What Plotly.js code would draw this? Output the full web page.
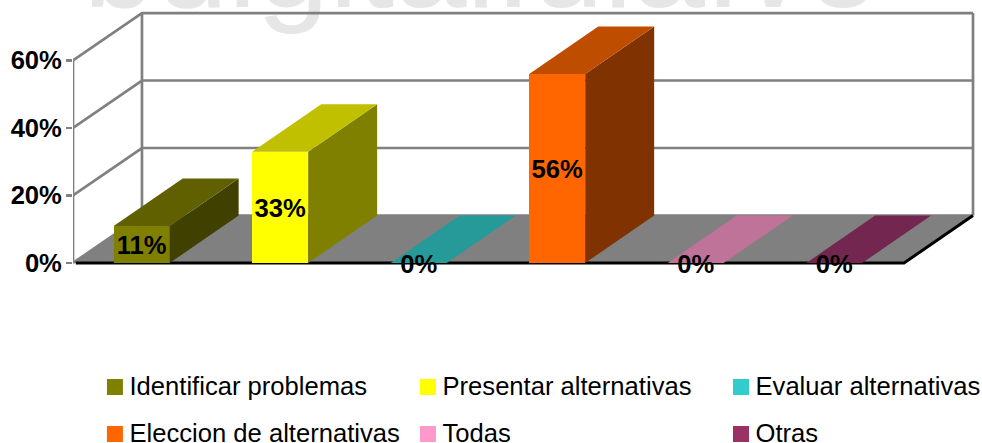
<!DOCTYPE html>
<html>
<head>
<meta charset="utf-8">
<script src="https://cdn.plot.ly/plotly-3.0.1.min.js"></script>
<style>html,body{margin:0;padding:0;background:#fff;overflow:hidden}</style>
</head>
<body>
<div id="chart" style="width:982px;height:443px"></div>
<script>
// Survey shares per category
var categories = ["Identificar problemas", "Presentar alternativas", "Evaluar alternativas",
                  "Eleccion de alternativas", "Todas", "Otras"];
var shares = [11, 33, 0, 56, 0, 0];
var shareTicks = [0, 20, 40, 60];

// Face colours of each box
var frontColors = ["#808000", "#FFFF00", "#33CCCC", "#FF6600", "#FF99CC", "#993366"];
var topColors   = ["#606000", "#C0C000", "#269999", "#BF4D00", "#BF7399", "#732650"];
var sideColors  = ["#404000", "#808000", "#1A6666", "#803300", "#804D66", "#4D1A33"];

// Oblique projection: how far the back plane is shifted from the front plane, in axis units
var depthX = 0.498, depthY = 14.07;
var halfBar = 0.202;
var floorLeft = -0.5, floorRight = 5.5, topValue = 60;
var gray = "#808080", font = "Liberation Sans, Arial, sans-serif";

function poly(xs, ys, color) {
  return {type: "scatter", mode: "lines", x: xs.concat(xs[0]), y: ys.concat(ys[0]),
          fill: "toself", fillcolor: color, line: {width: 0}, hoverinfo: "skip",
          xaxis: "x2", yaxis: "y2", showlegend: false};
}
function wall(xs, ys, color, width) {
  return {type: "scatter", mode: "lines", x: xs, y: ys, hoverinfo: "skip", showlegend: false,
          line: {color: color || gray, width: width || 2.7, simplify: false}};
}

var traces = [];

// Site mark running behind the frame, anchored inside the plot so it is not culled
traces.push({type: "scatter", mode: "text", x: [2.445], y: [66.3], text: ["bdigital.ula.ve"],
  textposition: "top center", cliponaxis: false, hoverinfo: "skip", showlegend: false,
  textfont: {family: font, size: 130, color: "#E6E6E6"}});

// Floor
traces.push({type: "scatter", mode: "lines", hoverinfo: "skip", showlegend: false,
  x: [floorLeft, floorRight, floorRight + depthX, floorLeft + depthX, floorLeft],
  y: [0, 0, depthY, depthY, 0], fill: "toself", fillcolor: "#808080", line: {width: 0}});

// Back and side walls with their grid lines
shareTicks.forEach(function (t) {
  traces.push(wall([floorLeft, floorLeft + depthX, floorRight + depthX],
                   [t, t + depthY, t + depthY]));
});
traces.push(wall([floorLeft, floorLeft], [0, topValue]));
traces.push(wall([floorLeft + depthX, floorLeft + depthX], [depthY, topValue + depthY]));
traces.push(wall([floorRight + depthX, floorRight + depthX], [depthY, topValue + depthY]));

// Front and right rim of the floor
traces.push(wall([floorLeft + 0.02, floorRight, floorRight + depthX], [0, 0, depthY], "#000000", 3));

// Front faces of the boxes
traces.push({type: "bar", x: categories.map(function (c, i) { return i; }), y: shares,
  width: halfBar * 2, marker: {color: frontColors, line: {width: 0}},
  xaxis: "x2", yaxis: "y2", hoverinfo: "skip", showlegend: false});

// Top and side faces derived from each value
shares.forEach(function (v, i) {
  var l = i - halfBar, r = i + halfBar;
  if (v > 0) traces.push(poly([r, r + depthX, r + depthX, r], [0, depthY, v + depthY, v], sideColors[i]));
  traces.push(poly([l, r, r + depthX, l + depthX], [v, v, v + depthY, v + depthY], topColors[i]));
});

// Value labels centred on the front faces, nudged down to sit on the optical centre
var labelNudge = 1;
traces.push({type: "scatter", mode: "text", xaxis: "x2", yaxis: "y2", cliponaxis: false,
  x: categories.map(function (c, i) { return i; }),
  y: shares.map(function (v) { return v / 2 - labelNudge; }),
  text: shares.map(function (v) { return v + "%"; }),
  textposition: "middle center", hoverinfo: "skip", showlegend: false,
  textfont: {family: font, size: 25.6, color: "#000000", weight: 700}});

// Key below the chart, three columns by two rows
traces.push({type: "scatter", mode: "markers", xaxis: "x3", yaxis: "y3", cliponaxis: false,
  x: categories.map(function (c, i) { return i % 3; }),
  y: categories.map(function (c, i) { return i < 3 ? 1 : 0; }),
  hoverinfo: "skip", showlegend: false,
  marker: {symbol: "square", size: 16, color: frontColors, line: {width: 0}}});
traces.push({type: "scatter", mode: "text", xaxis: "x3", yaxis: "y3", cliponaxis: false,
  x: categories.map(function (c, i) { return i % 3 + 0.0465; }),
  y: categories.map(function (c, i) { return (i < 3 ? 1 : 0) - 0.03; }),
  text: categories,
  textposition: "middle right", hoverinfo: "skip", showlegend: false,
  textfont: {family: font, size: 25.6, color: "#000000"}});

// Axis windows leave room under zero for the labels of empty categories
var xRange = [-0.5, 6.063], yRange = [-5.926, 77.93], plotDomain = [160 / 443, 1];
var hidden = {visible: false, showgrid: false, zeroline: false};

Plotly.newPlot("chart", traces, {
  width: 982, height: 443, showlegend: false,
  paper_bgcolor: "#FFFFFF", plot_bgcolor: "rgba(0,0,0,0)",
  margin: {l: 73, r: 0, t: 0, b: 0},
  xaxis: Object.assign({range: xRange, fixedrange: true}, hidden),
  yaxis: {range: yRange, domain: plotDomain, fixedrange: true, showgrid: false, zeroline: false,
          showline: false, tickmode: "array", tickvals: shareTicks,
          ticktext: shareTicks.map(function (t) { return t + "%"; }),
          ticks: "outside", ticklen: 6, tickwidth: 2.7, tickcolor: gray, ticklabelstandoff: -1,
          tickfont: {family: font, size: 25.6, color: "#000000", weight: 700}},
  xaxis2: Object.assign({range: [xRange[0] + 0.004, xRange[1] + 0.004], overlaying: "x", anchor: "y2"}, hidden),
  yaxis2: Object.assign({range: yRange, overlaying: "y", domain: plotDomain, anchor: "x2"}, hidden),
  xaxis3: Object.assign({range: [-0.134, 2.770], anchor: "y3", domain: [0, 1]}, hidden),
  yaxis3: Object.assign({range: [-0.191, 1.694], anchor: "x3", domain: [0, 0.2]}, hidden),
  bargap: 0
}, {displayModeBar: false, staticPlot: true});
</script>
</body>
</html>
